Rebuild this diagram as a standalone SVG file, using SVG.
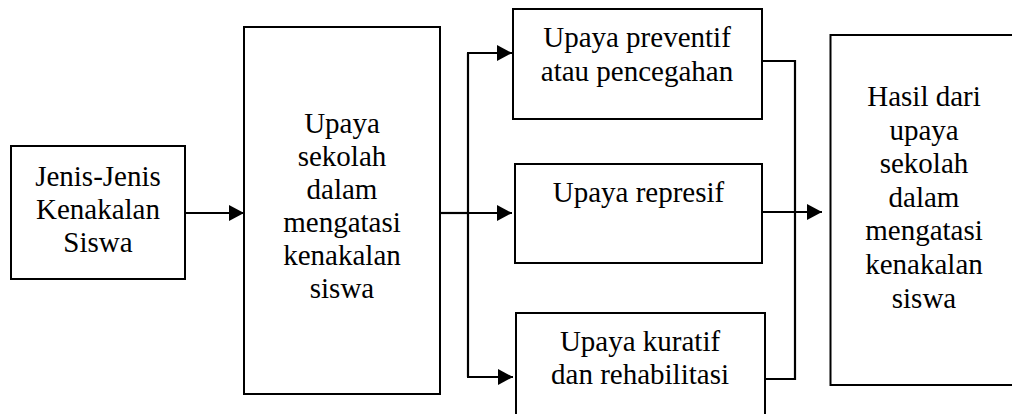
<svg xmlns="http://www.w3.org/2000/svg" width="1012" height="414" viewBox="0 0 1012 414">
<style>
.box{fill:#fff;stroke:#000;stroke-width:2}
.t{font-family:'Liberation Serif','DejaVu Serif',serif;font-size:29px;fill:#000;text-anchor:middle}
.c{fill:none;stroke:#000;stroke-width:2.2}
.a{marker-end:url(#arr)}
</style>
<defs>
<marker id="arr" markerUnits="userSpaceOnUse" markerWidth="15" markerHeight="16" refX="15" refY="8" orient="auto">
<path d="M0,0 L15,8 L0,16 Z" fill="#000"/>
</marker>
</defs>
<rect width="1012" height="414" fill="#fff"/>
<g id="jenis">
<rect class="box" x="11" y="146" width="174" height="133"/>
<text class="t" x="98" y="186" font-family="Liberation Serif">Jenis-Jenis</text>
<text class="t" x="98" y="219" font-family="Liberation Serif">Kenakalan</text>
<text class="t" x="98" y="252" font-family="Liberation Serif">Siswa</text>
</g>
<g id="upaya-sekolah">
<rect class="box" x="244" y="27" width="196" height="367"/>
<text class="t" x="342" y="133">Upaya</text>
<text class="t" x="342" y="166">sekolah</text>
<text class="t" x="342" y="199">dalam</text>
<text class="t" x="342" y="232">mengatasi</text>
<text class="t" x="342" y="265">kenakalan</text>
<text class="t" x="342" y="298">siswa</text>
</g>
<g id="preventif">
<rect class="box" x="513" y="9" width="249" height="110"/>
<text class="t" x="637" y="47">Upaya preventif</text>
<text class="t" x="637" y="80.5">atau pencegahan</text>
</g>
<g id="represif">
<rect class="box" x="515" y="164" width="247" height="99"/>
<text class="t" x="638.5" y="202">Upaya represif</text>
</g>
<g id="kuratif">
<rect class="box" x="516" y="313" width="249" height="130"/>
<text class="t" x="640" y="351">Upaya kuratif</text>
<text class="t" x="640" y="384">dan rehabilitasi</text>
</g>
<g id="hasil">
<rect class="box" x="830.5" y="35" width="200" height="350"/>
<text class="t" x="924" y="106">Hasil dari</text>
<text class="t" x="924" y="139.5">upaya</text>
<text class="t" x="924" y="173">sekolah</text>
<text class="t" x="924" y="207">dalam</text>
<text class="t" x="924" y="240">mengatasi</text>
<text class="t" x="924" y="274">kenakalan</text>
<text class="t" x="924" y="308">siswa</text>
</g>
<g id="connectors">
<line class="c a" x1="185" y1="213" x2="244" y2="213"/>
<line class="c" x1="440" y1="213" x2="468" y2="213"/>
<line class="c" x1="468" y1="53" x2="468" y2="377"/>
<line class="c a" x1="467" y1="53" x2="512" y2="53"/>
<line class="c a" x1="468" y1="213" x2="512" y2="213"/>
<line class="c a" x1="467" y1="377" x2="513" y2="377"/>
<polyline class="c" points="762,61 795,61 795,379 765,379"/>
<line class="c a" x1="763" y1="212" x2="822" y2="212"/>
</g>
</svg>
